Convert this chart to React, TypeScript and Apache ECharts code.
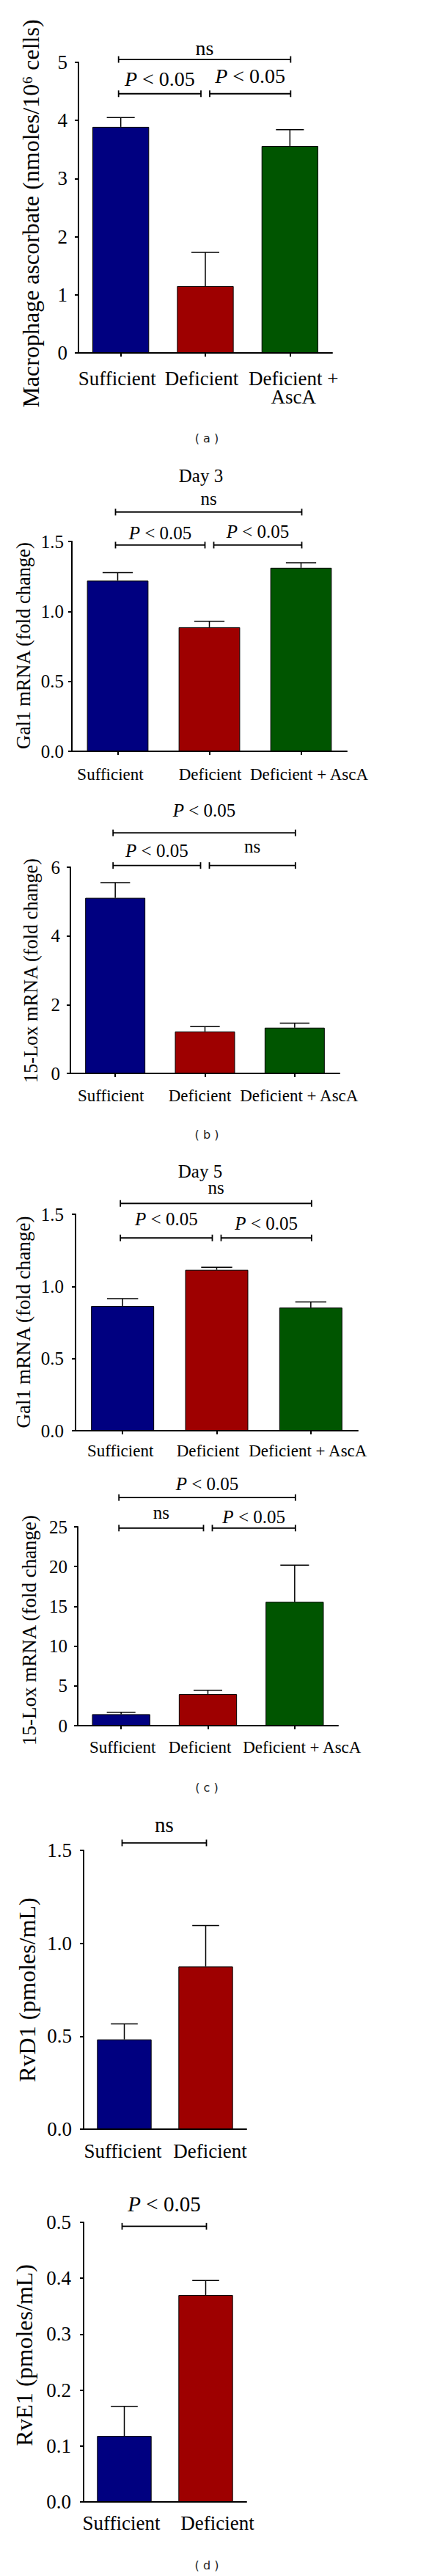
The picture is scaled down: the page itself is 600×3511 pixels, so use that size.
import React, { useEffect, useRef } from 'react';
import * as echarts from 'echarts';

const SERIF = "'Liberation Serif', 'Times New Roman', Times, serif";
const SANS = "'DejaVu Sans', 'Liberation Sans', Arial, sans-serif";

// ---------- data ----------
const categories3 = ['Sufficient', 'Deficient', 'Deficient + AscA'];
const categoriesA = ['Sufficient', 'Deficient', 'Deficient +\nAscA'];
const categories2 = ['Sufficient', 'Deficient'];
const barColors = ['#000080', '#9e0000', '#005500'];

const ascorbateMean = [3.89, 1.15, 3.56];
const ascorbateUpper = [4.05, 1.73, 3.84];

const day3Gal1Mean = [1.22, 0.887, 1.312];
const day3Gal1Upper = [1.277, 0.929, 1.348];

const day3LoxMean = [5.11, 1.22, 1.33];
const day3LoxUpper = [5.55, 1.36, 1.46];

const day5Gal1Mean = [0.864, 1.115, 0.853];
const day5Gal1Upper = [0.915, 1.132, 0.893];

const day5LoxMean = [1.44, 3.96, 15.57];
const day5LoxUpper = [1.69, 4.45, 20.18];

const rvd1Mean = [0.483, 0.875];
const rvd1Upper = [0.566, 1.095];

const rve1Mean = [0.118, 0.37];
const rve1Upper = [0.171, 0.396];

const P = 'P < 0.05';
const NS = 'ns';
// significance brackets: from category, to category, level (data units), label
const bracketsA = [
  { from: 0, to: 2, level: 5.05, text: NS },
  { from: 0, to: 1, level: 4.46, text: P },
  { from: 1, to: 2, level: 4.46, text: P },
];
const bracketsB1 = [
  { from: 0, to: 2, level: 1.71, text: NS },
  { from: 0, to: 1, level: 1.474, text: P },
  { from: 1, to: 2, level: 1.474, text: P },
];
const bracketsB2 = [
  { from: 0, to: 2, level: 7.0, text: P },
  { from: 0, to: 1, level: 6.05, text: P },
  { from: 1, to: 2, level: 6.05, text: NS },
];
const bracketsC1 = [
  { from: 0, to: 2, level: 1.575, text: NS },
  { from: 0, to: 1, level: 1.336, text: P },
  { from: 1, to: 2, level: 1.336, text: P },
];
const bracketsC2 = [
  { from: 0, to: 2, level: 28.68, text: P },
  { from: 0, to: 1, level: 24.84, text: NS },
  { from: 1, to: 2, level: 24.84, text: P },
];
const bracketsD1 = [{ from: 0, to: 1, level: 1.54, text: NS }];
const bracketsD2 = [{ from: 0, to: 1, level: 0.493, text: P }];

const yNameA = 'Macrophage ascorbate (nmoles/10\u2076 cells)';
const yNameGal1 = 'Gal1 mRNA (fold change)';
const yNameLox = '15-Lox mRNA (fold change)';
const yNameRvD1 = 'RvD1 (pmoles/mL)';
const yNameRvE1 = 'RvE1 (pmoles/mL)';

// ---------- layout / style ----------
// label gap (px between bracket line and label baseline)
const gapsA = [6, 11, 15];
const gapsB1 = [10, 8, 10];
const gapsB2 = [22, 12, 18];
const gapsC1 = [13, 17, 11];
const gapsC2 = [10, 13, 7];
const gapsD1 = [15];
const gapsD2 = [21];
// horizontal shift (px) of each category label relative to its tick
const shiftA = [-5, -5, 5];
const shiftB1 = [-10, 1, 11];
const shiftB2 = [-6, -7, 6];
const shiftC1 = [-3, -12, -4];
const shiftC2 = [2, -11, 10];
const shiftD1 = [-2, 6];
const shiftD2 = [-4, 16];

const panels = [
  {
    cats: categoriesA, mean: ascorbateMean, upper: ascorbateUpper, brackets: bracketsA, gaps: gapsA, shifts: shiftA,
    yMax: 5, yInterval: 1, decimals: 0,
    yName: yNameA, nameX: 42, nameY: 291, nameFs: 32,
    grid: { left: 107, top: 85, width: 346, height: 396 },
    tickFs: 27, catFs: 27, catLH: 25, annFs: 28,
    catMargin: 22, tickMargin: 15, xTicks: true,
  },
  {
    cats: categories3, mean: day3Gal1Mean, upper: day3Gal1Upper, brackets: bracketsB1, gaps: gapsB1, shifts: shiftB1,
    yMax: 1.5, yInterval: 0.5, decimals: 1,
    yName: yNameGal1, nameX: 32, nameY: 880, nameFs: 26.5,
    grid: { left: 98, top: 738, width: 375, height: 286 },
    tickFs: 25, catFs: 23, catLH: 23, annFs: 25,
    catMargin: 20, tickMargin: 11, xTicks: true,
  },
  {
    cats: categories3, mean: day3LoxMean, upper: day3LoxUpper, brackets: bracketsB2, gaps: gapsB2, shifts: shiftB2,
    yMax: 6, yInterval: 2, decimals: 0,
    yName: yNameLox, nameX: 42, nameY: 1323, nameFs: 26.3,
    grid: { left: 96, top: 1182, width: 367, height: 281 },
    tickFs: 25, catFs: 23, catLH: 23, annFs: 25,
    catMargin: 19, tickMargin: 14, xTicks: true,
  },
  {
    cats: categories3, mean: day5Gal1Mean, upper: day5Gal1Upper, brackets: bracketsC1, gaps: gapsC1, shifts: shiftC1,
    yMax: 1.5, yInterval: 0.5, decimals: 1,
    yName: yNameGal1, nameX: 32, nameY: 1802, nameFs: 27.2,
    grid: { left: 103, top: 1655, width: 385, height: 295 },
    tickFs: 25, catFs: 23, catLH: 23, annFs: 25,
    catMargin: 16, tickMargin: 16, xTicks: true,
  },
  {
    cats: categories3, mean: day5LoxMean, upper: day5LoxUpper, brackets: bracketsC2, gaps: gapsC2, shifts: shiftC2,
    yMax: 25, yInterval: 5, decimals: 0,
    yName: yNameLox, nameX: 40, nameY: 2222, nameFs: 27,
    grid: { left: 106, top: 2081, width: 355, height: 271 },
    tickFs: 25, catFs: 23, catLH: 23, annFs: 25,
    catMargin: 18, tickMargin: 14, xTicks: true,
  },
  {
    cats: categories2, mean: rvd1Mean, upper: rvd1Upper, brackets: bracketsD1, gaps: gapsD1, shifts: shiftD1,
    yMax: 1.5, yInterval: 0.5, decimals: 1,
    yName: yNameRvD1, nameX: 37, nameY: 2712, nameFs: 32,
    grid: { left: 114, top: 2522, width: 222, height: 380 },
    tickFs: 27, catFs: 27, catLH: 27, annFs: 29,
    catMargin: 16, tickMargin: 16, xTicks: false,
  },
  {
    cats: categories2, mean: rve1Mean, upper: rve1Upper, brackets: bracketsD2, gaps: gapsD2, shifts: shiftD2,
    yMax: 0.5, yInterval: 0.1, decimals: 1,
    yName: yNameRvE1, nameX: 33, nameY: 3210, nameFs: 32,
    grid: { left: 114, top: 3029, width: 222, height: 381 },
    tickFs: 27, catFs: 27, catLH: 27, annFs: 29,
    catMargin: 15, tickMargin: 17, xTicks: false,
  },
];

const captions = [
  { text: 'Day 3', x: 274, baseline: 657, fs: 25, serif: true },
  { text: 'Day 5', x: 273, baseline: 1605, fs: 25, serif: true },
  { text: '( a )', x: 282, baseline: 603, fs: 16, serif: false },
  { text: '( b )', x: 282, baseline: 1552, fs: 16, serif: false },
  { text: '( c )', x: 282, baseline: 2442, fs: 16, serif: false },
  { text: '( d )', x: 282, baseline: 3502, fs: 16, serif: false },
];

function buildOption() {
  const grid: any[] = [];
  const xAxis: any[] = [];
  const yAxis: any[] = [];
  const series: any[] = [];
  const graphic: any[] = [];

  panels.forEach((p, i) => {
    grid.push({ ...p.grid, containLabel: false });
    xAxis.push({
      type: 'category',
      gridIndex: i,
      data: p.cats.map((c, k) => {
        const s = p.shifts[k];
        return {
          value: c,
          textStyle: { padding: s >= 0 ? [0, 0, 0, 2 * s] : [0, -2 * s, 0, 0] },
        };
      }),
      axisLine: { lineStyle: { color: '#000', width: 2 } },
      axisTick: { show: p.xTicks, alignWithLabel: true, length: 5, lineStyle: { color: '#000', width: 2 } },
      axisLabel: {
        color: '#000', fontFamily: SERIF, fontSize: p.catFs, lineHeight: p.catLH,
        margin: p.catMargin, interval: 0,
      },
      splitLine: { show: false },
    });
    yAxis.push({
      type: 'value',
      gridIndex: i,
      min: 0,
      max: p.yMax,
      interval: p.yInterval,
      axisLine: { show: true, lineStyle: { color: '#000', width: 2 } },
      axisTick: { show: true, length: 5, lineStyle: { color: '#000', width: 2 } },
      axisLabel: {
        color: '#000', fontFamily: SERIF, fontSize: p.tickFs, margin: p.tickMargin,
        formatter: (v: number) => v.toFixed(p.decimals),
      },
      splitLine: { show: false },
    });

    // y-axis title (rotated), drawn as graphic text so it is never truncated
    graphic.push({
      type: 'text',
      x: p.nameX,
      y: p.nameY,
      rotation: Math.PI / 2,
      style: {
        text: p.yName,
        fill: '#000',
        fontSize: p.nameFs,
        fontFamily: SERIF,
        align: 'center',
        verticalAlign: 'middle',
      },
    });

    series.push({
      type: 'bar',
      xAxisIndex: i,
      yAxisIndex: i,
      barWidth: '67%',
      data: p.mean.map((v, k) => ({
        value: v,
        itemStyle: { color: barColors[k], borderColor: '#000', borderWidth: 1 },
      })),
      z: 2,
    });

    series.push({
      type: 'custom',
      xAxisIndex: i,
      yAxisIndex: i,
      clip: false,
      z: 3,
      data: p.mean.map((v, k) => [k, v, p.upper[k]]),
      renderItem: (params: any, api: any) => {
        const idx = api.value(0);
        const top = api.coord([idx, api.value(1)]);
        const up = api.coord([idx, api.value(2)]);
        const band = api.size([1, 0])[0];
        const hw = band * 0.165;
        const st = { stroke: '#000', lineWidth: 1.5 };
        return {
          type: 'group',
          children: [
            { type: 'line', shape: { x1: top[0], y1: top[1], x2: up[0], y2: up[1] }, style: st },
            { type: 'line', shape: { x1: up[0] - hw, y1: up[1], x2: up[0] + hw, y2: up[1] }, style: st },
          ],
        };
      },
    });

    const nCat = p.cats.length;
    series.push({
      type: 'custom',
      xAxisIndex: i,
      yAxisIndex: i,
      clip: false,
      z: 4,
      data: p.brackets.map((b) => [b.from, b.level, b.to]),
      renderItem: (params: any, api: any) => {
        const b = p.brackets[params.dataIndex];
        const gap = p.gaps[params.dataIndex];
        const p1 = api.coord([b.from, b.level]);
        const p2 = api.coord([b.to, b.level]);
        let x1 = p1[0] - 3;
        let x2 = p2[0] + 1;
        if (b.from > 0) x1 = p1[0] + 6;
        if (b.to < nCat - 1) x2 = p2[0] - 6;
        const y = p1[1];
        const cx = (x1 + x2) / 2;
        const fs = p.annFs;
        const st = { stroke: '#000', lineWidth: 1.8 };
        const txt = b.text.startsWith('P') ? '{i|P}{r|' + b.text.slice(1) + '}' : '{r|' + b.text + '}';
        return {
          type: 'group',
          children: [
            { type: 'line', shape: { x1, y1: y, x2, y2: y }, style: st },
            { type: 'line', shape: { x1, y1: y - 4.5, x2: x1, y2: y + 4.5 }, style: st },
            { type: 'line', shape: { x1: x2, y1: y - 4.5, x2, y2: y + 4.5 }, style: st },
            {
              type: 'text',
              x: cx,
              y: y - gap - 0.3375 * fs,
              style: {
                text: txt,
                fill: '#000',
                fontSize: fs,
                fontFamily: SERIF,
                align: 'center',
                verticalAlign: 'middle',
                rich: {
                  i: { fontStyle: 'italic', fontSize: fs, fontFamily: SERIF, fill: '#000' },
                  r: { fontSize: fs, fontFamily: SERIF, fill: '#000' },
                },
              },
            },
          ],
        };
      },
    });
  });

  captions.forEach((c) => {
    graphic.push({
      type: 'text',
      x: c.x,
      y: c.baseline - 0.3375 * c.fs,
      style: {
        text: c.text,
        fill: c.serif ? '#000' : '#222',
        fontSize: c.fs,
        fontFamily: c.serif ? SERIF : SANS,
        align: 'center',
        verticalAlign: 'middle',
      },
    });
  });

  return {
    animation: false,
    backgroundColor: '#fff',
    grid,
    xAxis,
    yAxis,
    series,
    graphic,
  };
}

export default function App() {
  const ref = useRef<HTMLDivElement>(null);
  useEffect(() => {
    if (!ref.current) return;
    const chart = echarts.init(ref.current, null, { renderer: 'svg' });
    chart.setOption(buildOption() as any);
    return () => chart.dispose();
  }, []);
  return (
    <div
      ref={ref}
      style={{ position: 'absolute', left: 0, top: 0, width: 600, height: 3511, background: '#fff' }}
    />
  );
}
